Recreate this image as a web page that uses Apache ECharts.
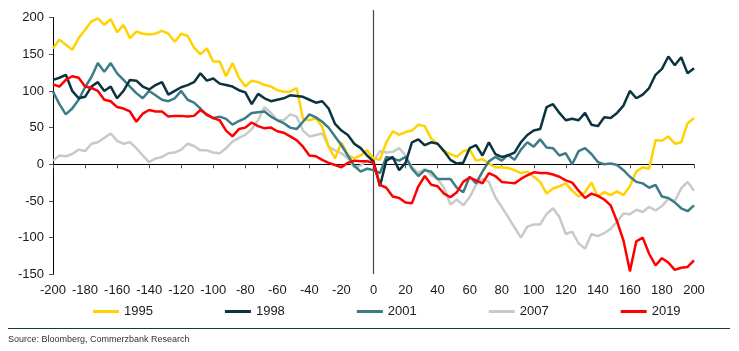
<!DOCTYPE html>
<html>
<head>
<meta charset="utf-8">
<script src="https://cdn.jsdelivr.net/npm/echarts@6/dist/echarts.min.js"></script>
<style>
  html, body { margin: 0; padding: 0; background: #fff; }
  #main { width: 739px; height: 351px; }
</style>
</head>
<body>
<div id="main"></div>
<script>
// trading days relative to the event, step 4
const xs = [
  -200,-196,-192,-188,-184,-180,-176,-172,-168,-164,
  -160,-156,-152,-148,-144,-140,-136,-132,-128,-124,
  -120,-116,-112,-108,-104,-100,-96,-92,-88,-84,
  -80,-76,-72,-68,-64,-60,-56,-52,-48,-44,
  -40,-36,-32,-28,-24,-20,-16,-12,-8,-4,
  0,4,8,12,16,20,24,28,32,36,
  40,44,48,52,56,60,64,68,72,76,
  80,84,88,92,96,100,104,108,112,116,
  120,124,128,132,136,140,144,148,152,156,
  160,164,168,172,176,180,184,188,192,196,
  200
]

const y1995 = [
  158,170,163,156,172,183,195,199,190,198,
  180,190,172,181,178,177,178,182,178,167,
  178,175,159,150,158,140,140,120,138,118,
  106,114,112,108,106,101,99,99,104,62,
  60,63,51,24,8,30,12,8,12,19,
  8,6,30,45,40,44,46,54,52,35,
  28,18,14,10,18,20,5,7,1,-4,
  -4,-5,-8,-12,-10,-17,-24,-40,-33,-30,
  -26,-36,-44,-38,-25,-44,-38,-42,-37,-42,
  -30,-10,-4,-6,33,32,38,28,30,56,
  63
]

const y1998 = [
  115,118,122,100,90,92,106,112,100,106,
  90,100,115,114,106,102,108,112,95,100,
  105,108,112,124,114,117,110,108,106,101,
  98,82,96,90,86,88,90,94,93,92,
  88,84,86,76,55,46,40,28,22,12,
  4,-30,5,10,-8,2,30,34,26,30,
  28,18,6,1,2,22,26,12,30,14,
  10,12,16,30,40,46,48,78,82,70,
  60,62,60,70,54,52,64,63,70,80,
  100,90,95,104,122,130,147,135,146,124,
  131
]

const y2001 = [
  99,82,68,76,88,105,119,138,126,138,
  124,115,106,97,90,100,94,88,86,90,
  100,88,84,76,67,63,65,62,54,59,
  63,70,71,72,65,60,56,50,48,58,
  68,64,58,50,38,26,12,-2,-10,-6,
  -8,-12,10,8,5,10,-6,-16,-8,-10,
  -20,-20,-20,-32,-38,-17,-26,-10,4,10,
  5,13,6,20,30,24,34,23,22,12,
  15,0,18,22,14,3,0,1,-1,-8,
  -17,-24,-26,-32,-28,-44,-46,-52,-60,-64,
  -56
]

const y2007 = [
  5,12,11,14,20,18,28,30,36,42,
  32,28,30,22,12,3,8,10,15,16,
  20,28,25,19,19,16,15,22,31,36,
  40,48,60,78,70,60,60,68,65,46,
  38,40,42,24,19,15,8,-4,-2,5,
  4,18,16,17,22,12,-4,-12,-6,-15,
  -20,-32,-55,-48,-56,-45,-28,-20,-24,-45,
  -58,-72,-86,-100,-85,-82,-82,-68,-60,-72,
  -95,-92,-108,-115,-95,-98,-94,-88,-78,-67,
  -68,-62,-65,-58,-63,-57,-47,-50,-33,-24,
  -36
]

const y2019 = [
  109,106,115,120,118,106,104,100,88,86,
  78,76,72,58,69,74,72,72,65,66,
  66,65,66,74,68,63,60,46,38,48,
  50,57,52,49,50,45,43,38,33,24,
  12,11,6,2,-1,-4,2,5,4,4,
  2,-28,-32,-44,-46,-52,-53,-30,-16,-28,
  -30,-40,-45,-38,-24,-18,-22,-26,-12,-16,
  -24,-25,-26,-20,-15,-11,-12,-12,-14,-17,
  -22,-25,-36,-46,-40,-43,-48,-56,-78,-104,
  -146,-105,-100,-122,-138,-128,-134,-144,-141,-140,
  -131
]

const legendNames = ['1995', '1998', '2001', '2007', '2019']
const colors = {
  '1995': '#FFD200',
  '1998': '#0B3340',
  '2001': '#3D7C86',
  '2007': '#C6CBCA',
  '2019': '#FF0000'
}
const values = { '1995': y1995, '1998': y1998, '2001': y2001, '2007': y2007, '2019': y2019 }
// draw order (bottom -> top)
const drawOrder = ['2007', '1995', '2001', '1998', '2019']

const font = 'Liberation Sans, Arial, sans-serif'
const chart = echarts.init(document.getElementById('main'))

const series = drawOrder.map(name => ({
  name: name,
  type: 'line',
  showSymbol: false,
  symbol: 'none',
  xAxisIndex: 0,
  yAxisIndex: 0,
  data: xs.map((x, i) => [x, values[name][i]]),
  lineStyle: { color: colors[name], width: 2.5 },
  itemStyle: { color: colors[name] },
  emphasis: { disabled: true }
}))

chart.setOption({
  animation: false,
  grid: { left: 53, right: 45, top: 17.6, bottom: 76.7, containLabel: false },
  legend: {
    data: legendNames,
    left: 88,
    top: 300,
    icon: 'rect',
    itemWidth: 26,
    itemHeight: 3,
    itemGap: 72,
    textStyle: { fontSize: 13, color: '#1a1a1a', fontFamily: font }
  },
  xAxis: [
    {
      // labels at the bottom
      type: 'value', min: -200, max: 200, interval: 20, position: 'bottom',
      axisLine: { show: false, onZero: false },
      axisTick: { show: false },
      splitLine: { show: false },
      axisLabel: { color: '#1a1a1a', fontSize: 13, margin: 10, fontFamily: font }
    },
    {
      // line at y = 0 with ticks
      type: 'value', min: -200, max: 200, interval: 20, position: 'bottom',
      axisLine: { show: true, onZero: true, lineStyle: { color: '#000', width: 1 } },
      axisTick: { show: true, length: 4, lineStyle: { color: '#555' } },
      axisLabel: { show: false },
      splitLine: { show: false }
    }
  ],
  yAxis: {
    type: 'value', min: -150, max: 200, interval: 50,
    axisLine: { show: true, onZero: false, lineStyle: { color: '#000', width: 1 } },
    axisTick: { show: true, length: 4, lineStyle: { color: '#555' } },
    splitLine: { show: false },
    axisLabel: { color: '#1a1a1a', fontSize: 13, margin: 9, fontFamily: font }
  },
  series: series
})

// vertical line at day 0, running a little above the plot
const x0 = chart.convertToPixel({ xAxisIndex: 0 }, 0)
chart.setOption({
  graphic: [
    {
      type: 'line', z: 1, silent: true,
      shape: { x1: x0, y1: 10, x2: x0, y2: 274 },
      style: { stroke: '#444', lineWidth: 1.2 }
    },
    {
      type: 'line', silent: true,
      shape: { x1: 8, y1: 328.5, x2: 730, y2: 328.5 },
      style: { stroke: '#123844', lineWidth: 1.2 }
    },
    {
      type: 'text', left: 8, top: 335, silent: true,
      style: { text: 'Source: Bloomberg, Commerzbank Research', fontSize: 9, fill: '#333', fontFamily: font }
    }
  ]
})
</script>
</body>
</html>
